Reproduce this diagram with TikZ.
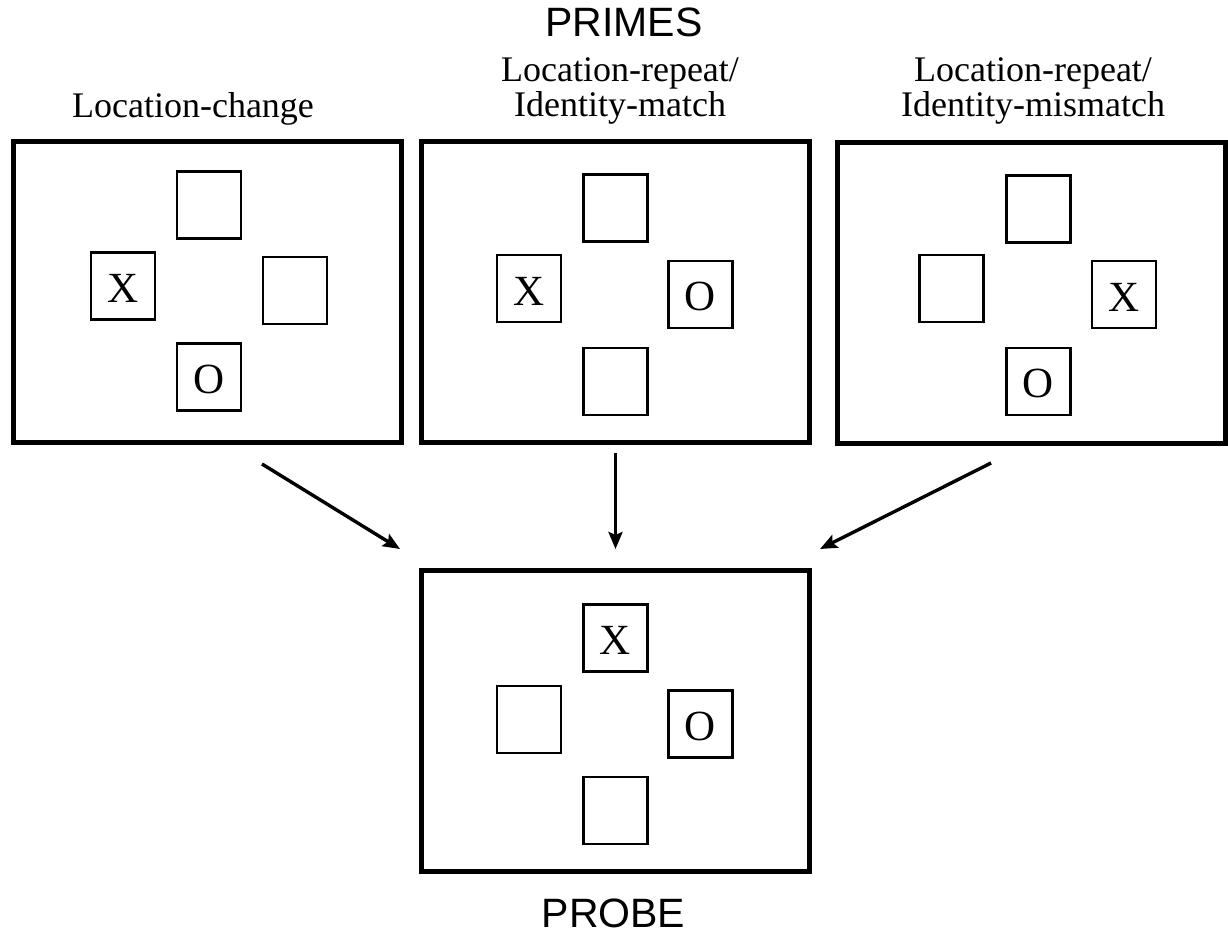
\documentclass[tikz,border=0pt]{standalone}
\usepackage{fontspec}
\setmainfont{Liberation Serif}
\newfontfamily\headfont{Liberation Sans}
\usepackage{tikz}
\usetikzlibrary{positioning,arrows.meta}

\begin{document}
\begin{tikzpicture}[x=1pt,y=-1pt,inner sep=0pt,outer sep=0pt,
    frame/.style={draw,line width=5pt,minimum width=388pt,minimum height=301pt},
    cell/.style={draw,line width=2.5pt,minimum width=64pt,minimum height=67pt,text height=33pt,font=\fontsize{43}{43}\selectfont},
    cond/.style={font=\fontsize{36}{34.5}\selectfont,align=center},
    head/.style={font=\headfont\fontsize{41}{41}\selectfont},
    arr/.style={line width=3.4pt,-{Stealth[length=17pt,width=14pt,inset=3pt]}}]
    \useasboundingbox (0,0) rectangle (1228,934);
    %
    \node[head,anchor=base] (primes) at (624,37) {PRIMES};
    \node[head,anchor=base] (probe_lbl) at (613.5,927) {PROBE};
    \node[cond,anchor=base] (lbl_change) at (193,117) {Location-change};
    \node[cond,anchor=north] (lbl_match) at (620,58) {Location-repeat/\\Identity-match};
    \node[cond,anchor=north] (lbl_mismatch) at (1033,58) {Location-repeat/\\Identity-mismatch};
    %
    \node[frame] (prime_change) at (207,291.5) {};
    \node[frame] (prime_match) at (615.5,292) {};
    \node[frame] (prime_mismatch) at (1031,292.5) {};
    \node[frame] (probe) at (615.5,721) {};
    % location-change
    \node[cell] (ch_top) at (209,205) {};
    \node[cell] (ch_left) at (123,286) {X};
    \node[cell] (ch_right) at (295,290.5) {};
    \node[cell] (ch_bot) at (209,377) {O};
    % identity-match
    \node[cell] (ma_top) at (615.5,208) {};
    \node[cell] (ma_left) at (529,288.5) {X};
    \node[cell] (ma_right) at (700.5,294.5) {O};
    \node[cell] (ma_bot) at (615.5,381.5) {};
    % identity-mismatch
    \node[cell] (mi_top) at (1038.5,209) {};
    \node[cell] (mi_left) at (951.5,288.5) {};
    \node[cell] (mi_right) at (1124,294.5) {X};
    \node[cell] (mi_bot) at (1038.5,381.5) {O};
    % probe
    \node[cell] (pr_top) at (615.5,638) {X};
    \node[cell] (pr_left) at (529,719.5) {};
    \node[cell] (pr_right) at (700.5,724) {O};
    \node[cell] (pr_bot) at (615.5,810.5) {};
    %
    \coordinate[below=22pt of prime_change.south,xshift=55pt] (from_change);
    \coordinate[below=10.5pt of prime_match.south] (from_match);
    \coordinate[below=20pt of prime_mismatch.south,xshift=-40pt] (from_mismatch);
    \coordinate[above=21.5pt of probe.north,xshift=-215.5pt] (to_change);
    \coordinate[above=21.5pt of probe.north] (to_match);
    \coordinate[above=21.5pt of probe.north,xshift=204.5pt] (to_mismatch);
    \draw[arr] (from_change) -- (to_change);
    \draw[arr] (from_match) -- (to_match);
    \draw[arr] (from_mismatch) -- (to_mismatch);

\end{tikzpicture}
\end{document}
